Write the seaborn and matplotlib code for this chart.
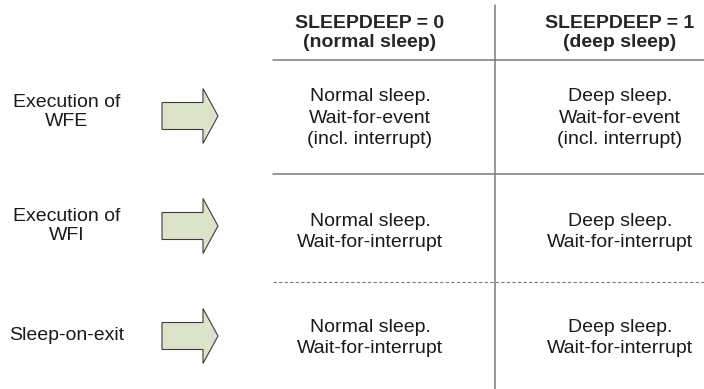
import matplotlib
matplotlib.use("Agg")
import matplotlib.pyplot as plt
import matplotlib.patches as mpatches
import seaborn as sns

sns.set_style("white")
plt.rcParams['font.family'] = ['Liberation Sans', 'DejaVu Sans']

# Diagram content
col_headers = ["SLEEPDEEP = 0\n(normal sleep)", "SLEEPDEEP = 1\n(deep sleep)"]
row_labels = ["Execution of\nWFE", "Execution of\nWFI", "Sleep-on-exit"]
cells = [
    ["Normal sleep.\nWait-for-event\n(incl. interrupt)", "Deep sleep.\nWait-for-event\n(incl. interrupt)"],
    ["Normal sleep.\nWait-for-interrupt", "Deep sleep.\nWait-for-interrupt"],
    ["Normal sleep.\nWait-for-interrupt", "Deep sleep.\nWait-for-interrupt"],
]

# Layout (pixel space)
W, H = 704, 389
arrow_y = [116, 226, 336]
cell_y = [118, 232, 338]
label_y = [112, 226, 336]
col_x = [370, 620]
divider_x = 495
grid_x0 = 273
sep_y = [60, 174, 282]
sep_style = ["-", "-", "--"]

fig = plt.figure(figsize=(7.04, 3.89), dpi=100)
ax = fig.add_axes([0, 0, 1, 1])
ax.set_xlim(0, W)
ax.set_ylim(H, 0)
ax.axis("off")

line_col = "#7a7a7a"
ax.plot([divider_x, divider_x], [5, H], color=line_col, lw=1.1)
for y, ls in zip(sep_y, sep_style):
    ax.plot([grid_x0, W], [y, y], color=line_col, lw=1.1 if ls == "-" else 0.8,
            linestyle=(0, (3, 2)) if ls == "--" else "-")

for x, txt in zip(col_x, col_headers):
    ax.text(x, 33, txt, ha="center", va="center", fontsize=14, fontweight="bold",
            linespacing=1.2)

for i, row in enumerate(cells):
    for x, txt in zip(col_x, row):
        ax.text(x, cell_y[i], txt, ha="center", va="center", fontsize=14,
                linespacing=1.32, color="#1a1a1a")

for y, txt in zip(label_y, row_labels):
    ax.text(67, y, txt, ha="center", va="center", fontsize=14, linespacing=1.2,
            color="#1a1a1a")

for y in arrow_y:
    arr = mpatches.FancyArrow(162, y, 56, 0, width=27, head_width=55, head_length=15,
                              length_includes_head=True, facecolor="#dde2cb",
                              edgecolor="#3c3c3c", linewidth=0.8)
    ax.add_patch(arr)

fig.savefig("out.png", dpi=100)
